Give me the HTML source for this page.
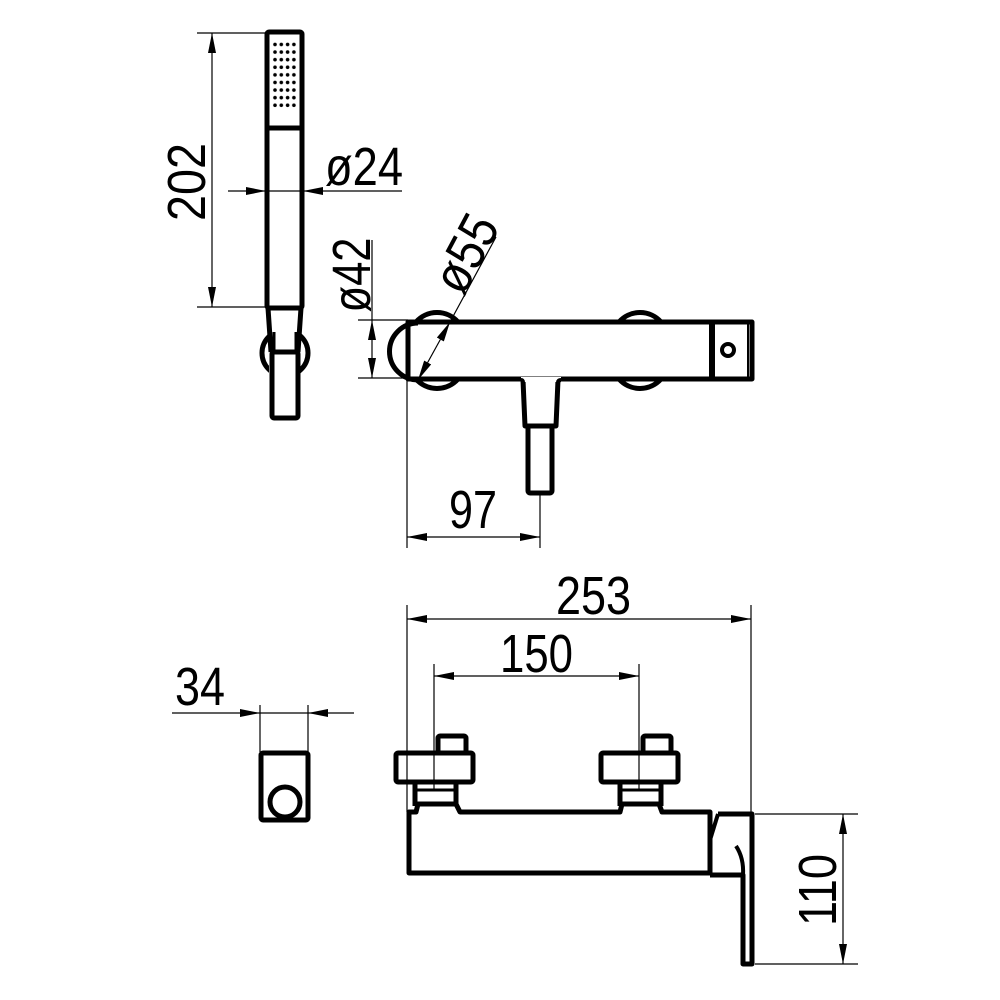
<!DOCTYPE html>
<html><head><style>body{margin:0;background:#fff}svg{display:block}text{font-family:"Liberation Sans",sans-serif;fill:#000}</style></head><body>
<svg width="1000" height="1000" viewBox="0 0 1000 1000" xmlns="http://www.w3.org/2000/svg">
<defs>
<marker id="a" viewBox="0 0 20 8" refX="20" refY="4" markerWidth="20" markerHeight="8" markerUnits="userSpaceOnUse" orient="auto"><path d="M0 0L20 4L0 8Z"/></marker>
<marker id="b" viewBox="0 0 20 8" refX="0" refY="4" markerWidth="20" markerHeight="8" markerUnits="userSpaceOnUse" orient="auto"><path d="M20 0L0 4L20 8Z"/></marker>
<pattern id="dots" x="272" y="41" width="6.3" height="7.6" patternUnits="userSpaceOnUse"><circle cx="3" cy="3.5" r="1.8"/></pattern>
</defs>
<g fill="none" stroke="#000" stroke-width="1.2">
<line x1="197" y1="33" x2="266" y2="33"/><line x1="197" y1="307" x2="266" y2="307"/>
<line x1="212" y1="33" x2="212" y2="307" marker-start="url(#b)" marker-end="url(#a)"/>
<line x1="228" y1="191" x2="266" y2="191" marker-end="url(#a)"/>
<line x1="402" y1="191" x2="303" y2="191" marker-end="url(#a)"/>
<line x1="266" y1="191" x2="303" y2="191"/>
<line x1="358" y1="320" x2="408" y2="320"/><line x1="358" y1="378" x2="408" y2="378"/>
<line x1="372" y1="240" x2="372" y2="320"/>
<line x1="372" y1="320" x2="372" y2="378" marker-start="url(#b)" marker-end="url(#a)"/>
<line x1="496" y1="237" x2="450" y2="322"/>
<line x1="450" y1="322" x2="418" y2="380" marker-start="url(#b)" marker-end="url(#a)"/>
<line x1="407" y1="380" x2="407" y2="548"/><line x1="540" y1="493" x2="540" y2="548"/>
<line x1="407" y1="537" x2="540" y2="537" marker-start="url(#b)" marker-end="url(#a)"/>
<line x1="407" y1="605" x2="407" y2="812"/><line x1="751" y1="605" x2="751" y2="812"/>
<line x1="407" y1="619" x2="751" y2="619" marker-start="url(#b)" marker-end="url(#a)"/>
<line x1="434" y1="664" x2="434" y2="790"/><line x1="639" y1="664" x2="639" y2="790"/>
<line x1="434" y1="676" x2="639" y2="676" marker-start="url(#b)" marker-end="url(#a)"/>
<line x1="755" y1="814" x2="858" y2="814"/><line x1="755" y1="964" x2="858" y2="964"/>
<line x1="843" y1="814" x2="843" y2="964" marker-start="url(#b)" marker-end="url(#a)"/>
<line x1="260" y1="705" x2="260" y2="752"/><line x1="308" y1="705" x2="308" y2="752"/>
<line x1="172" y1="713" x2="260" y2="713" marker-end="url(#a)"/>
<line x1="354" y1="713" x2="308" y2="713" marker-end="url(#a)"/>
<line x1="260" y1="713" x2="308" y2="713"/>
</g>
<g fill="none" stroke="#000" stroke-width="5" stroke-linejoin="round">
<!-- hand shower -->
<circle cx="285" cy="353" r="23"/>
<rect x="269" y="312" width="31" height="80" fill="#fff" stroke="none"/>
<rect x="267" y="32" width="35" height="276" rx="2"/>
<line x1="267" y1="128" x2="302" y2="128"/>
<path d="M268 308L271 352M301 308L298 352"/>
<path d="M274 332L274 352M296 332L296 352" stroke-width="3"/>
<rect x="272" y="352" width="26" height="66" rx="2" fill="#fff"/>
<!-- top view -->
<path d="M408 322L752 322L752 379L408 379Z"/>
<path d="M418 323A28 28 0 0 0 418 380" />
<path d="M416 322A28 28 0 0 1 458 322M416 379A28 28 0 0 0 458 379"/>
<path d="M619 322A28 28 0 0 1 661 322M619 379A28 28 0 0 0 661 379"/>
<line x1="712" y1="320" x2="712" y2="380" stroke-width="6"/>
<line x1="748" y1="324" x2="748" y2="377" stroke-width="2"/>
<path d="M523 380L525 426L556 426L558 380"/>
<rect x="528" y="426" width="24" height="67" rx="2"/>
<!-- front view -->
<path d="M409 812L409 873L710 873L710 812L662 812L659 804L622 804L620 812L460 812L456 804L418 804L416 812Z"/>
<rect x="396" y="753" width="77" height="29" rx="2"/>
<rect x="438" y="736" width="28" height="17" rx="2"/>
<rect x="601" y="753" width="77" height="29" rx="2"/>
<rect x="643" y="736" width="28" height="17" rx="2"/>
<path d="M415 782L415 806M456 782L456 806M620 782L620 806M661 782L661 806"/>
<path d="M417 790H456M622 790H661" stroke-width="3"/>
<path d="M718 814L752 814L752 964L743 964L743 875L710 875"/>
<path d="M718 814L710 840" stroke-width="4"/>
<path d="M736 846Q744 858 743 875" stroke-width="4"/>
<!-- side -->
<rect x="261" y="753" width="47" height="67" rx="2"/>
<circle cx="285" cy="802" r="15"/>
</g>
<rect x="272" y="41" width="25" height="68" fill="url(#dots)"/>
<rect x="521" y="377" width="40" height="5" fill="#fff"/>
<path d="M521 380Q523 380 523 383M561 380Q558 380 558 383" fill="none" stroke="#000" stroke-width="4"/>
<circle cx="728" cy="350" r="6" fill="none" stroke="#000" stroke-width="4"/>
<g font-size="54">
<text transform="translate(205,182) rotate(-90)" text-anchor="middle" textLength="78" lengthAdjust="spacingAndGlyphs">202</text>
<text x="325" y="185" textLength="78" lengthAdjust="spacingAndGlyphs">ø24</text>
<text transform="translate(370,275) rotate(-90)" text-anchor="middle" textLength="75" lengthAdjust="spacingAndGlyphs">ø42</text>
<text transform="translate(482,262) rotate(-62)" text-anchor="middle" textLength="80" lengthAdjust="spacingAndGlyphs">ø55</text>
<text x="449" y="528" textLength="48" lengthAdjust="spacingAndGlyphs">97</text>
<text x="556" y="614" textLength="75" lengthAdjust="spacingAndGlyphs">253</text>
<text x="500" y="672" textLength="73" lengthAdjust="spacingAndGlyphs">150</text>
<text x="175" y="705" textLength="50" lengthAdjust="spacingAndGlyphs">34</text>
<text transform="translate(836,890) rotate(-90)" text-anchor="middle" textLength="72" lengthAdjust="spacingAndGlyphs">110</text>
</g>
</svg>
</body></html>
